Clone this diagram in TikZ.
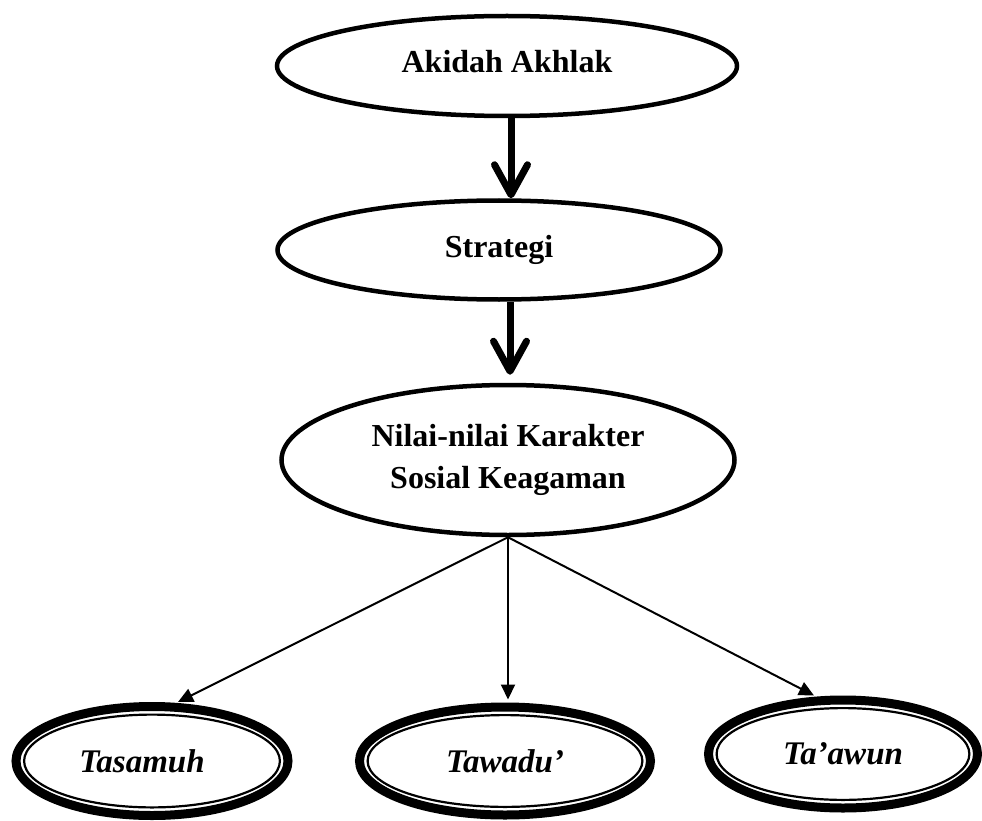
\documentclass[tikz,border=0pt]{standalone}
\usepackage{fontspec}
\setmainfont{Liberation Serif}
\usetikzlibrary{arrows.meta,shapes.geometric,calc}
\begin{document}
\begin{tikzpicture}[x=1pt,y=-1pt,
  topell/.style={ellipse, draw, line width=4.5pt, inner sep=0pt, fill=white,
    font=\fontsize{32}{42}\selectfont\bfseries, align=center},
  botell/.style={ellipse, draw, line width=9pt, inner sep=0pt, fill=white,
    font=\fontsize{33}{42}\selectfont\bfseries\itshape},
  innerring/.style={line width=2.2pt},
  bigarrow/.style={line width=7pt, -{Straight Barb[length=30pt,width=33pt,round]}},
  thinarrow/.style={line width=2pt, -{Triangle[length=15pt,width=14pt]}}]
\useasboundingbox (0,0) rectangle (982,821);
% top ellipses
\node[topell, minimum width=460pt, minimum height=100pt] (akh) at (507,66)
  {\raisebox{4.5pt}[\height][\depth]{Akidah Akhlak}};
\node[topell, minimum width=443pt, minimum height=99pt] (str) at (499,250) {Strategi};
\node[topell, minimum width=453pt, minimum height=150pt] (nil) at (508,460)
  {Nilai-nilai Karakter\\Sosial Keagaman};
% bottom ellipses
\node[botell, minimum width=272pt, minimum height=109pt] (tas) at (152,761) {Tasamuh\hspace*{20pt}};
\node[botell, minimum width=291pt, minimum height=108pt] (taw) at (505,761) {Tawadu’};
\node[botell, minimum width=269pt, minimum height=108pt] (taa) at (843,754) {Ta’awun};
\draw[innerring] (tas.center) ellipse [x radius=127.9pt, y radius=46.4pt];
\draw[innerring] (taw.center) ellipse [x radius=137.4pt, y radius=45.9pt];
\draw[innerring] (taa.center) ellipse [x radius=126.4pt, y radius=45.9pt];
% thick arrows
\coordinate (ax) at (511,0);
\coordinate (bx) at (510,0);
\draw[bigarrow] (akh.south -| ax) -- (str.north -| ax);
\draw[bigarrow, shorten >=8pt] (str.south -| bx) -- (nil.north -| bx);
% thin arrows
\draw[thinarrow] (nil.south) -- ([xshift=26pt]tas.north);
\draw[thinarrow, shorten >=3pt] (nil.south) -- (nil.south |- taw.north);
\draw[thinarrow] (nil.south) -- ([xshift=-29pt]taa.north);
\end{tikzpicture}
\end{document}
